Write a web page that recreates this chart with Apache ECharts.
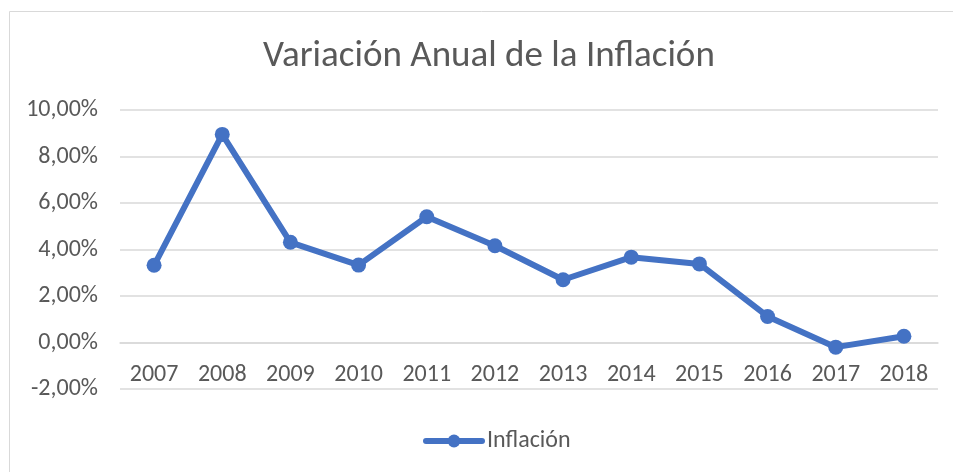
<!DOCTYPE html>
<html>
<head>
<meta charset="utf-8">
<script src="https://cdn.jsdelivr.net/npm/echarts@6/dist/echarts.min.js"></script>
<style>
  html, body { margin: 0; padding: 0; background: #fff; }
  #main { width: 953px; height: 472px; }
</style>
</head>
<body>
<div id="main"></div>
<script>
  // datos
  const years = ['2007', '2008', '2009', '2010', '2011', '2012', '2013', '2014', '2015', '2016', '2017', '2018']
  const inflacion = [3.32, 8.95, 4.31, 3.33, 5.41, 4.16, 2.70, 3.67, 3.38, 1.12, -0.20, 0.27]
  const yTicks = { min: -2, max: 10, step: 2 }

  const fontFamily = 'Carlito, Calibri, "Open Sans", sans-serif'
  const textColor = '#595959'

  const gridTop = 110
  const gridBottom = 83
  const plotH = 472 - gridTop - gridBottom
  // desplaza el eje x hasta la línea del 0 %
  const zeroOffset = -plotH * (0 - yTicks.min) / (yTicks.max - yTicks.min)

  const chart = echarts.init(document.getElementById('main'))
  chart.setOption({
    animation: false,
    textStyle: { fontFamily: fontFamily },
    title: {
      text: 'Variación Anual de la Inflación',
      left: 258,
      top: 33,
      textStyle: { fontFamily: fontFamily, fontSize: 37, fontWeight: 'normal', color: textColor }
    },
    graphic: [{
      type: 'rect',
      shape: { x: 9.5, y: 11.5, width: 980, height: 500 },
      style: { fill: 'none', stroke: '#d9d9d9', lineWidth: 1 },
      silent: true
    }],
    legend: {
      bottom: 14,
      left: 418,
      itemWidth: 56,
      itemHeight: 16,
      data: ['Inflación'],
      lineStyle: { width: 6, cap: 'round' },
      textStyle: { fontFamily: fontFamily, fontSize: 24, color: textColor, padding: [0, 0, 0, 0] }
    },
    grid: { left: 120, right: 15, top: gridTop, bottom: gridBottom },
    xAxis: {
      type: 'category',
      data: years,
      boundaryGap: true,
      position: 'bottom',
      offset: zeroOffset,
      axisLine: { show: true, onZero: false, lineStyle: { color: '#d9d9d9', width: 1.5 } },
      axisTick: { show: false },
      axisLabel: { color: textColor, fontSize: 24, margin: 20, fontFamily: fontFamily }
    },
    yAxis: {
      type: 'value',
      min: yTicks.min,
      max: yTicks.max,
      interval: yTicks.step,
      axisLine: { show: false },
      axisTick: { show: false },
      splitLine: { lineStyle: { color: '#d9d9d9', width: 1.5 } },
      axisLabel: {
        color: textColor,
        fontSize: 24,
        margin: 22,
        fontFamily: fontFamily,
        formatter: v => v.toFixed(2).replace('.', ',') + '%'
      }
    },
    series: [{
      name: 'Inflación',
      type: 'line',
      data: inflacion,
      symbol: 'circle',
      symbolSize: 15,
      lineStyle: { color: '#4472c4', width: 6, cap: 'round', join: 'round' },
      itemStyle: { color: '#4472c4' }
    }]
  })
</script>
</body>
</html>
